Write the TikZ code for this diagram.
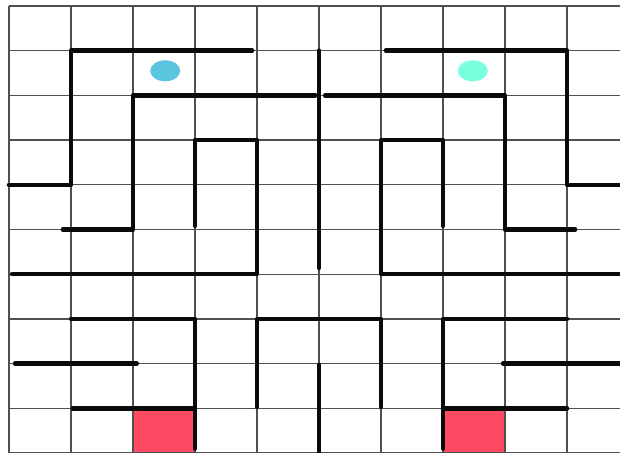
\documentclass[tikz,border=0pt]{standalone}
\usepackage{tikz}
\usepackage{xcolor}
\usetikzlibrary{shapes.geometric}
\definecolor{gridgray} {HTML}{505050}
\definecolor{wallink}  {HTML}{0A0A0A}
\definecolor{startblue}{HTML}{5BC5DF}
\definecolor{startmint}{HTML}{78FFDE}
\definecolor{goalred}  {HTML}{FF4A63}
\tikzset{
  gridline/.style ={draw=gridgray, line width=0.7pt},
  wall/.style     ={draw=wallink, line width=2.6pt, line cap=round, line join=round},
  goalcell/.style ={fill=goalred},
  playerdot/.style={ellipse, draw=none, minimum width=0.6cm, minimum height=0.42cm, inner sep=0pt},
}

\begin{document}
\begin{tikzpicture}[x=1.24cm,y=-0.894cm]
    \useasboundingbox (-0.145,-0.134) rectangle (9.855,10.0);
    \begin{scope}
    \clip (-0.145,-0.134) rectangle (9.855,10.0);
    \fill[goalcell] (2,9) rectangle (3,10);
    \fill[goalcell] (7,9) rectangle (8,10);
    \foreach \col in {0,...,9}
      \draw[gridline] (\col,0) -- (\col,10);
    \foreach \row in {0,...,10}
      \draw[gridline] (0,\row) -- (9.9,\row);
    \draw[wall] (3.92,1) -- (1,1) -- (1,4) -- (0,4);
    \draw[wall] (4.94,2) -- (2,2) -- (2,5) -- (0.87,5);
    \draw[wall] (3,4.92) -- (3,3) -- (4,3) -- (4,6) -- (0.05,6);
    \draw[wall] (5,1) -- (5,5.86);
    \draw[wall] (6.08,1) -- (9,1) -- (9,4) -- (9.9,4);
    \draw[wall] (5.1,2) -- (8,2) -- (8,5) -- (9.13,5);
    \draw[wall] (7,4.92) -- (7,3) -- (6,3) -- (6,6) -- (9.9,6);
    \draw[wall] (1,7) -- (3,7) -- (3,9.9);
    \draw[wall] (0.1,8) -- (2.06,8);
    \draw[wall] (1.03,9) -- (3,9);
    \draw[wall] (4,8.97) -- (4,7) -- (6,7) -- (6,8.97);
    \draw[wall] (5,8.03) -- (5,9.98);
    \draw[wall] (7,9.9) -- (7,7) -- (9,7);
    \draw[wall] (7.97,8) -- (9.9,8);
    \draw[wall] (7,9) -- (9,9);
    \end{scope}
    \node[playerdot, fill=startblue] (bluedot) at (2.52,1.45) {};
    \node[playerdot, fill=startmint] (mintdot) at (7.48,1.45) {};
  \end{tikzpicture}
\end{document}
